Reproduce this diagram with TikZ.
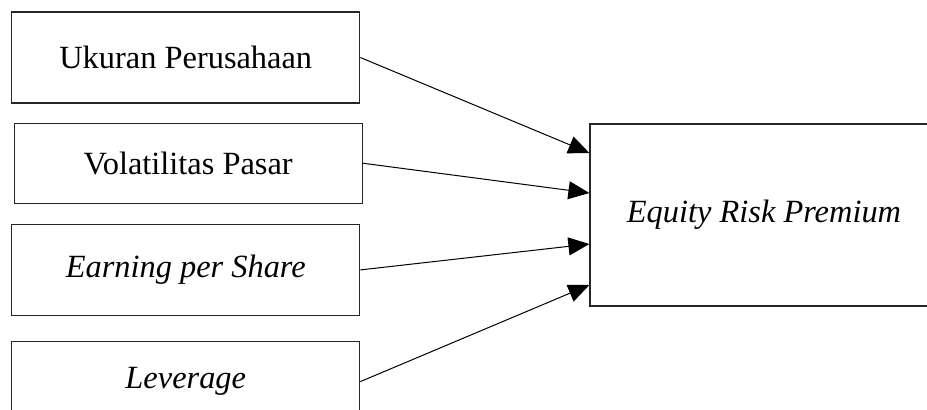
\documentclass[tikz,border=0pt]{standalone}
\usepackage{fontspec}
\setmainfont{Liberation Serif}
\usetikzlibrary{arrows.meta, positioning}

\begin{document}
\begin{tikzpicture}[
  x=0.5pt, y=0.5pt,
  VAR/.style ={draw=black!85, line width=0.6pt, minimum width=174pt, minimum height=45.5pt,
               inner sep=0pt, align=center, font=\fontsize{16.2}{19}\selectfont},
  ERP/.style ={VAR, minimum height=91pt},
  AR/.style  ={-{Triangle[length=10.5pt,width=9pt]}, line width=0.5pt}
]
  \useasboundingbox (0,0) rectangle (927,-409);
  \clip (0,0) rectangle (927,-409);

  \node[VAR] (b1) at (185.75,-57.5) {Ukuran Perusahaan};
  \node[VAR, minimum height=40pt, below=9.5pt of b1, xshift=1.2pt] (b2) {Volatilitas Pasar};
  \node[VAR, below=10pt of b2, xshift=-1.2pt] (b3) {\textit{Earning per Share}};
  \node[VAR, minimum height=40pt, below=12.5pt of b3] (b4) {\textit{Leverage}};

  \node[ERP] (erp) at (764,-215) {\textit{Equity Risk Premium}};

  \foreach \a/\s in {b1/31pt,b2/11pt,b3/-14.5pt,b4/-35pt}
    \draw[AR] (\a.east) -- ([yshift=\s]erp.west);
\end{tikzpicture}
\end{document}
